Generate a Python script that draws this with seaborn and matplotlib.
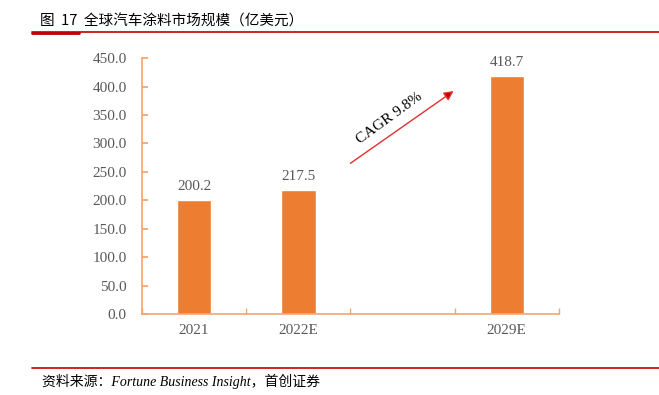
import numpy as np
import pandas as pd
import seaborn as sns
import matplotlib.pyplot as plt
from matplotlib.ticker import FixedLocator, FormatStrFormatter

# 数据
years = ['2021', '2022E', ' ', '2029E']
market = [200.2, 217.5, np.nan, 418.7]
cagr_text = 'CAGR 9.8%'

bar_color = '#ED7D31'
spine_color = '#F4A56E'
grey = '#595959'

sns.set_theme(style='white')
plt.rcParams['font.family'] = ['Liberation Serif', 'Noto Sans CJK SC']

df = pd.DataFrame({'year': years, 'value': market})

fig = plt.figure(figsize=(6.59, 3.95), dpi=100)
ax = fig.add_axes([0.2155, 0.205, 0.6325, 0.648])

sns.barplot(data=df, x='year', y='value', order=years, color=bar_color,
            width=0.33, saturation=1, ax=ax)

ax.set_ylim(0, 450)
ax.set_xlim(-0.5, len(years) - 0.5)
ax.set_yticks(np.arange(0, 451, 50))
ax.yaxis.set_major_formatter(FormatStrFormatter('%.1f'))
ax.set_xlabel('')
ax.set_ylabel('')

for s in ['top', 'right']:
    ax.spines[s].set_visible(False)
for s in ['left', 'bottom']:
    ax.spines[s].set_color(spine_color)
    ax.spines[s].set_linewidth(1.2)

ax.tick_params(axis='y', direction='in', length=4, color=spine_color,
               labelsize=11, labelcolor=grey, pad=11, left=True)
ax.tick_params(axis='x', which='major', length=0, labelsize=11,
               labelcolor=grey, pad=7)
ax.xaxis.set_minor_locator(FixedLocator(np.arange(-0.5, len(years), 1.0)))
ax.tick_params(axis='x', which='minor', direction='in', length=4,
               color=spine_color, bottom=True)

# 数值标签
for i, v in enumerate(market):
    if not np.isnan(v):
        ax.text(i, v + 12, f'{v:.1f}', ha='center', va='bottom',
                fontsize=11, color=grey)

# CAGR 箭头
ax.annotate('', xy=(2.49, 392), xytext=(1.5, 265),
            arrowprops=dict(arrowstyle='-|>', color='#E03030', lw=1,
                            mutation_scale=14, shrinkA=0, shrinkB=0,
                            fc='#C00000', ec='#E03030'))
ax.text(1.87, 345, cagr_text, rotation=36, ha='center', va='center',
        fontsize=11, color='black', rotation_mode='anchor')

# 标题和来源
fig.text(0.06, 0.945, '图  17  全球汽车涂料市场规模（亿美元）', fontsize=10.5,
         family=['Noto Sans CJK SC', 'DejaVu Sans'], color='black',
         va='center', ha='left')
fig.add_artist(plt.Line2D([0.049, 1.0], [0.918, 0.918], color='#C00000', lw=1.2))
fig.add_artist(plt.Line2D([0.049, 0.12], [0.917, 0.917], color='#C00000', lw=2))
fig.add_artist(plt.Line2D([0.049, 1.0], [0.068, 0.068], color='#C00000', lw=1.2))
fig.text(0.063, 0.034, '资料来源：Fortune Business Insight，首创证券', fontsize=10,
         style='italic', family=['Liberation Serif', 'Noto Sans CJK SC'],
         color='black', va='center', ha='left')

fig.savefig('out.png', dpi=100)
